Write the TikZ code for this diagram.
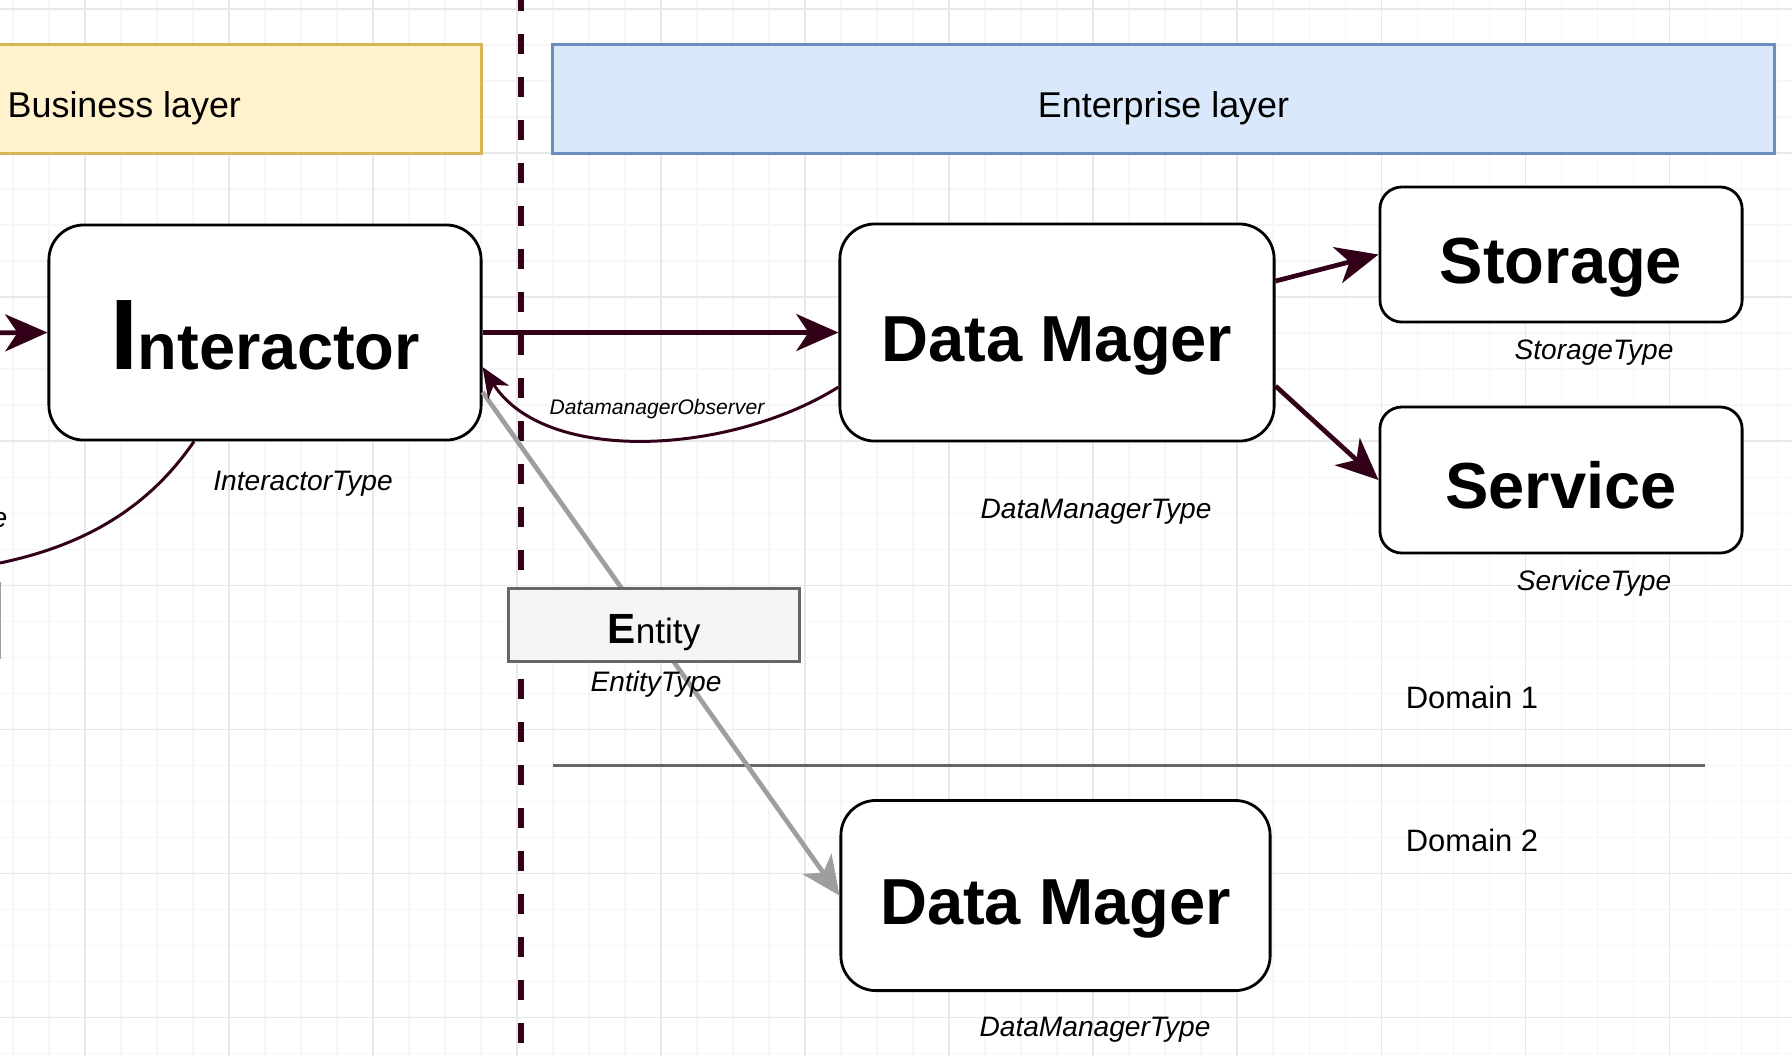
\documentclass[tikz,border=0pt]{standalone}
\usepackage{fontspec}
\setmainfont{Liberation Sans}
\usetikzlibrary{arrows.meta, positioning}

\definecolor{wine}{HTML}{33001A}
\definecolor{bizfill}{HTML}{FFF2CC}
\definecolor{bizline}{HTML}{D6B656}
\definecolor{entfill}{HTML}{DAE8FC}
\definecolor{entline}{HTML}{6C8EBF}
\definecolor{boxgray}{HTML}{666666}
\definecolor{boxfill}{HTML}{F5F5F5}
\definecolor{linkgray}{HTML}{9E9E9E}
\definecolor{gridmajor}{HTML}{E8E8E8}
\definecolor{gridminor}{HTML}{F6F6F6}

\begin{document}
\begin{tikzpicture}[x=0.01cm,y=-0.01cm,
    classbox/.style={draw=black, line width=0.8pt, fill=white, rounded corners=0.35cm,
        inner sep=0pt, text depth=0pt, text height=16.4pt, font=\fontsize{18.5}{20}\selectfont\bfseries},
    minibox/.style={classbox, rounded corners=0.22cm},
    layerbox/.style={line width=0.85pt, inner sep=0pt},
    layertext/.style={font=\fontsize{10.2}{12}\selectfont, text depth=0pt, inner sep=0pt},
    typetext/.style={font=\fontsize{8}{9}\selectfont\itshape, text depth=0pt, inner sep=0pt},
    obstext/.style={font=\fontsize{6}{7}\selectfont\itshape, text depth=0pt, inner sep=0pt},
    domtext/.style={font=\fontsize{8.8}{10}\selectfont, text depth=0pt, inner sep=0pt},
    link/.style={wine, line width=1.33pt, -{Stealth[length=12pt,width=10.5pt,inset=3.5pt]}},
    obsline/.style={wine, line width=0.85pt},
    graylink/.style={linkgray, line width=1.33pt, -{Stealth[length=11pt,width=10pt,inset=3pt]}},
    boundary/.style={wine, line width=1.62pt, dash pattern=on 5.69pt off 6.54pt},
    domline/.style={boxgray, line width=0.85pt}]

        \useasboundingbox (0,0) rectangle (1792,1056);
        \fill[white] (0,0) rectangle (1792,1056);

        % grid
        \foreach \x in {13,49,...,1792} \draw[gridminor, line width=0.3pt] (\x,0) -- (\x,1056);
        \foreach \y in {9,45,...,1056} \draw[gridminor, line width=0.3pt] (0,\y) -- (1792,\y);
        \foreach \x in {85,229,...,1792} \draw[gridmajor, line width=0.3pt] (\x,0) -- (\x,1056);
        \foreach \y in {9,153,...,1056} \draw[gridmajor, line width=0.3pt] (0,\y) -- (1792,\y);

        % layer split
        \draw[boundary] (521,-9) -- (521,1060);

        \node [layerbox, fill=bizfill, draw=bizline, minimum width=5.81cm, minimum height=1.08cm] (biz) at (190.5,99) {};
        \node [layertext, anchor=west] (biztext) at (7,104.5) {Business layer};
        \node [layerbox, fill=entfill, draw=entline, minimum width=12.21cm, minimum height=1.08cm] (ent) at (1163.5,99) {};
        \node [layertext] (enttext) at (1163.5,104.5) {Enterprise layer};

        % cut off at the left edge
        \draw[linkgray, line width=0.5pt] (-150,583) rectangle (0.5,658);

        \node [classbox, text height=20.8pt, minimum width=4.32cm, minimum height=2.15cm] (inter) at (265,332.5) {{\fontsize{28.5}{30}\selectfont I}nteractor};
        \node [classbox, minimum width=4.34cm, minimum height=2.17cm] (dm1) at (1057,332.5) {Data Mager};
        \node [minibox, minimum width=3.62cm, minimum height=1.35cm] (stor) at (1561,254.5) {Storage};
        \node [minibox, minimum width=3.62cm, minimum height=1.46cm] (serv) at (1561,480) {Service};
        \node [classbox, minimum width=4.29cm, minimum height=1.9cm] (dm2) at (1055.5,895.5) {Data Mager};

        \draw[domline] (553,765) -- (1705,765);

        \draw[graylink] (inter.east |- 0,392) -- (dm2.west);
        \node [draw=boxgray, fill=boxfill, line width=0.85pt, inner sep=0pt, text depth=0pt, text height=11pt,
               minimum width=2.9cm, minimum height=0.73cm] (ent1) at (654,624.5)
              {{\fontsize{12}{12}\selectfont\bfseries E}{\fontsize{10}{12}\selectfont ntity}};

        \coordinate (inl) at (-30,333);
        \coordinate (offl) at (-60,572);
        \draw[link] (inl) -- (inter.west);
        \draw[link] (inter.east) -- (dm1.west);
        \draw[link] (dm1.east |- 0,281) -- (stor.west);
        \draw[link] (dm1.east |- 0,386) -- (serv.west);
        \draw[obsline, -{Stealth[length=8.5pt,width=7pt,inset=2.5pt]}] (dm1.west |- 0,387) .. controls (730,455) and (545,465) .. (inter.east |- 0,367);
        \draw[obsline] (194,0 |- inter.south) .. controls (140,520) and (60,560) .. (offl);

        \node [obstext] (obs) at (657,407) {DatamanagerObserver};
        \node [typetext] (intertype) at (303,481) {InteractorType};
        \node [typetext, anchor=east] (cut) at (8,520) {e};
        \node [typetext] (dm1type) at (1096,508.5) {DataManagerType};
        \node [typetext] (stortype) at (1594,349.5) {StorageType};
        \node [typetext] (servtype) at (1594,580) {ServiceType};
        \node [typetext] (enttype) at (656,681) {EntityType};
        \node [typetext] (dm2type) at (1095,1026.5) {DataManagerType};

        \node [domtext] (dom1) at (1472,697.5) {Domain 1};
        \node [domtext] (dom2) at (1472,840) {Domain 2};
\end{tikzpicture}
\end{document}
